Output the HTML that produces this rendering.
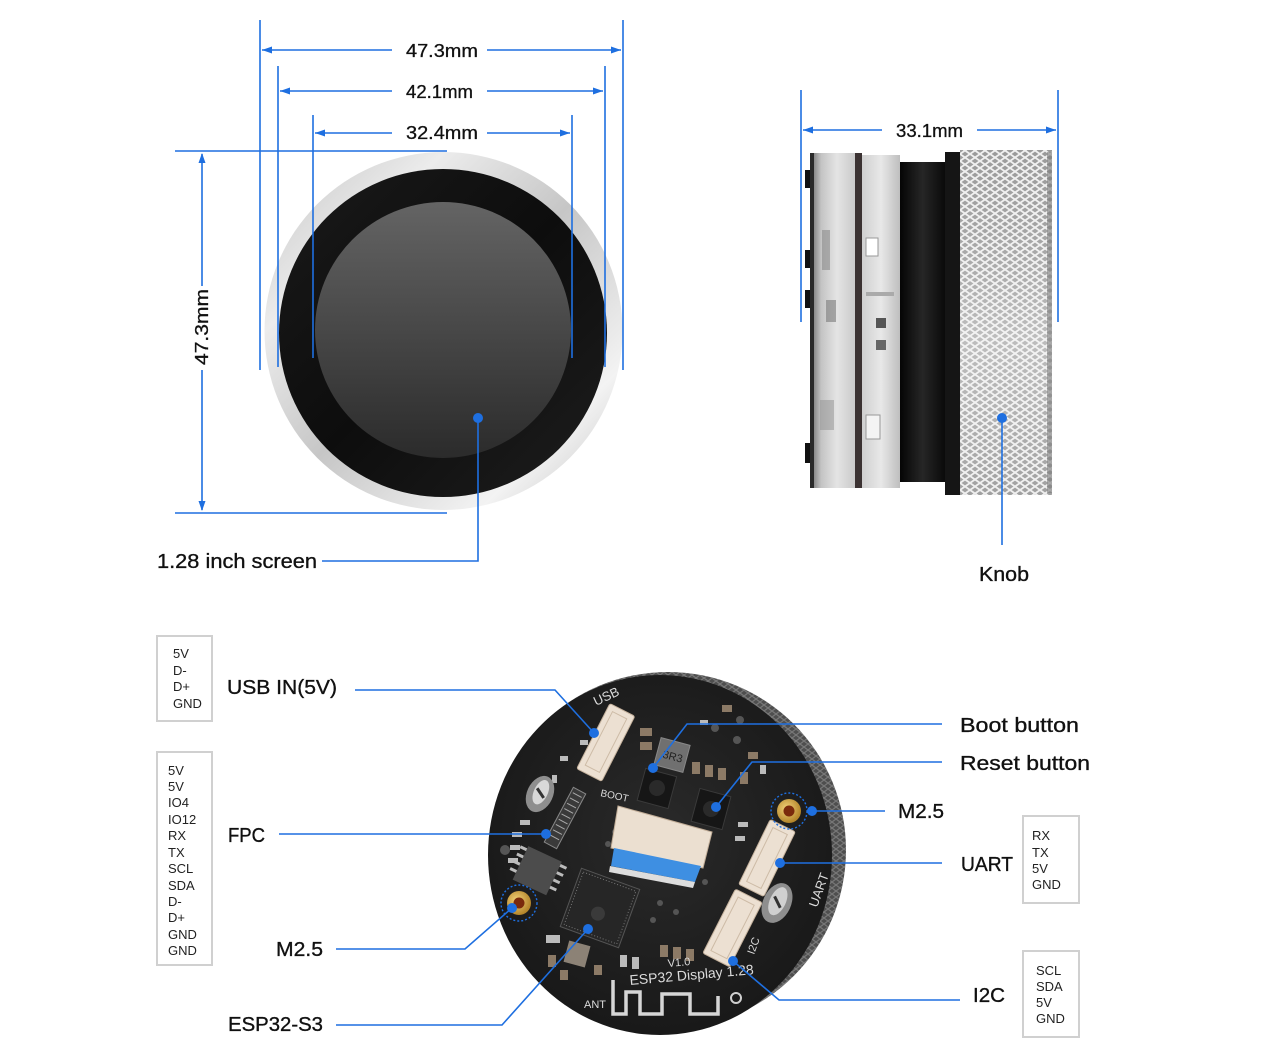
<!DOCTYPE html>
<html><head><meta charset="utf-8"><style>
html,body{margin:0;padding:0;background:#fff;}
svg{display:block;}
text{font-family:"Liberation Sans",Arial,sans-serif;}
</style></head><body>
<svg width="1280" height="1050" viewBox="0 0 1280 1050" xmlns="http://www.w3.org/2000/svg">
<defs>
 <linearGradient id="ring" x1="0" y1="0" x2="1" y2="1">
  <stop offset="0" stop-color="#c2c2c2"/>
  <stop offset="0.25" stop-color="#ececec"/>
  <stop offset="0.5" stop-color="#c6c6c6"/>
  <stop offset="0.8" stop-color="#f3f3f3"/>
  <stop offset="1" stop-color="#bcbcbc"/>
 </linearGradient>
 <linearGradient id="scr" x1="0" y1="0" x2="0" y2="1">
  <stop offset="0" stop-color="#646464"/>
  <stop offset="1" stop-color="#2b2b2b"/>
 </linearGradient>
 <linearGradient id="bez" x1="0" y1="0" x2="1" y2="1">
  <stop offset="0" stop-color="#1a1a1a"/>
  <stop offset="0.5" stop-color="#0d0d0d"/>
  <stop offset="1" stop-color="#1e1e1e"/>
 </linearGradient>
 <pattern id="knurl" width="10" height="7" patternUnits="userSpaceOnUse">
  <path d="M0,0 L10,7 M10,0 L0,7" stroke="#f8f8f8" stroke-width="1.8"/>
 </pattern>
 <pattern id="knurl2" width="8" height="6" patternUnits="userSpaceOnUse">
  <path d="M0,0 L8,6 M8,0 L0,6" stroke="#f4f4f4" stroke-width="1.2"/>
 </pattern>
 <linearGradient id="knobg" x1="0" y1="0" x2="0" y2="1">
  <stop offset="0" stop-color="#9a9a9a"/>
  <stop offset="0.3" stop-color="#a8a8a8"/>
  <stop offset="0.55" stop-color="#bdbdbd"/>
  <stop offset="0.8" stop-color="#b0b0b0"/>
  <stop offset="1" stop-color="#a0a0a0"/>
 </linearGradient>
 <linearGradient id="clear1" x1="0" y1="0" x2="1" y2="0">
  <stop offset="0" stop-color="#6a6a6a"/>
  <stop offset="0.25" stop-color="#c4c4c4"/>
  <stop offset="0.6" stop-color="#e4e4e4"/>
  <stop offset="1" stop-color="#cacaca"/>
 </linearGradient>
 <linearGradient id="clear2" x1="0" y1="0" x2="1" y2="0">
  <stop offset="0" stop-color="#d0d0d0"/>
  <stop offset="0.5" stop-color="#e8e8e8"/>
  <stop offset="1" stop-color="#bebebe"/>
 </linearGradient>
 <linearGradient id="blk" x1="0" y1="0" x2="1" y2="0">
  <stop offset="0" stop-color="#050505"/>
  <stop offset="0.5" stop-color="#262626"/>
  <stop offset="1" stop-color="#0a0a0a"/>
 </linearGradient>
 <radialGradient id="pcb" cx="0.5" cy="0.45" r="0.6">
  <stop offset="0" stop-color="#2a2a2a"/>
  <stop offset="1" stop-color="#171717"/>
 </radialGradient>
 <radialGradient id="gold" cx="0.4" cy="0.4" r="0.6">
  <stop offset="0" stop-color="#f3d27a"/>
  <stop offset="1" stop-color="#b3852a"/>
 </radialGradient>
</defs>

<rect width="1280" height="1050" fill="#fff"/>

<!-- ============ FRONT VIEW ============ -->
<circle cx="443.5" cy="331" r="179" fill="url(#ring)"/>
<circle cx="443" cy="333" r="164" fill="url(#bez)"/>
<circle cx="443" cy="330" r="128" fill="url(#scr)"/>

<g stroke="#1e6fe0" stroke-width="1.6" fill="none">
 <line x1="260" y1="20" x2="260" y2="370"/>
 <line x1="278" y1="66" x2="278" y2="367"/>
 <line x1="313" y1="115" x2="313" y2="358"/>
 <line x1="572" y1="115" x2="572" y2="358"/>
 <line x1="605" y1="66" x2="605" y2="367"/>
 <line x1="623" y1="20" x2="623" y2="370"/>
 <line x1="175" y1="151" x2="447" y2="151"/>
 <line x1="175" y1="513" x2="447" y2="513"/>
 <line x1="262" y1="50" x2="392" y2="50"/><line x1="487" y1="50" x2="621" y2="50"/>
 <line x1="280" y1="91" x2="392" y2="91"/><line x1="487" y1="91" x2="603" y2="91"/>
 <line x1="315" y1="133" x2="392" y2="133"/><line x1="487" y1="133" x2="570" y2="133"/>
 <line x1="202" y1="154" x2="202" y2="286"/><line x1="202" y1="370" x2="202" y2="510"/>
 <polyline points="478,418 478,561 322,561"/>
</g>
<g fill="#1e6fe0">
 <polygon points="262,50 272,46.5 272,53.5"/><polygon points="621,50 611,46.5 611,53.5"/>
 <polygon points="280,91 290,87.5 290,94.5"/><polygon points="603,91 593,87.5 593,94.5"/>
 <polygon points="315,133 325,129.5 325,136.5"/><polygon points="570,133 560,129.5 560,136.5"/>
 <polygon points="202,153 198.5,163 205.5,163"/><polygon points="202,511 198.5,501 205.5,501"/>
 <circle cx="478" cy="418" r="5"/>
</g>
<g fill="#111" font-size="18" stroke="#111" stroke-width="0.3">
 <text x="406" y="57" textLength="72" lengthAdjust="spacingAndGlyphs">47.3mm</text>
 <text x="406" y="98" textLength="67" lengthAdjust="spacingAndGlyphs">42.1mm</text>
 <text x="406" y="139" textLength="72" lengthAdjust="spacingAndGlyphs">32.4mm</text>
 <text transform="translate(208,365) rotate(-90)" x="0" y="0" textLength="76" lengthAdjust="spacingAndGlyphs">47.3mm</text>
</g>
<text x="157" y="568" font-size="20.5" fill="#111" stroke="#111" stroke-width="0.35" textLength="160" lengthAdjust="spacingAndGlyphs">1.28 inch screen</text>

<!-- ============ SIDE VIEW ============ -->
<g>
 <rect x="805" y="170" width="6" height="18" fill="#111"/>
 <rect x="805" y="250" width="6" height="18" fill="#111"/>
 <rect x="805" y="290" width="6" height="18" fill="#111"/>
 <rect x="805" y="443" width="6" height="20" fill="#111"/>
 <rect x="810" y="153" width="45" height="335" fill="url(#clear1)"/>
 <rect x="810" y="153" width="4" height="335" fill="#2a2a2a"/>
 <rect x="822" y="230" width="8" height="40" fill="#8a8a8a" opacity="0.6"/>
 <rect x="826" y="300" width="10" height="22" fill="#7a7a7a" opacity="0.6"/>
 <rect x="820" y="400" width="14" height="30" fill="#909090" opacity="0.5"/>
 <rect x="855" y="153" width="7" height="335" fill="#3b3232"/>
 <rect x="862" y="155" width="38" height="333" fill="url(#clear2)"/>
 <rect x="866" y="238" width="12" height="18" fill="#fff" stroke="#999"/>
 <rect x="876" y="318" width="10" height="10" fill="#555"/>
 <rect x="876" y="340" width="10" height="10" fill="#666"/>
 <rect x="866" y="415" width="14" height="24" fill="#f4f4f4" stroke="#999"/>
 <rect x="866" y="292" width="28" height="4" fill="#aaa"/>
 <rect x="900" y="162" width="45" height="320" fill="url(#blk)"/>
 <rect x="945" y="152" width="16" height="343" fill="#151515"/>
 <rect x="960" y="150" width="92" height="345" fill="url(#knobg)"/>
 <rect x="960" y="150" width="92" height="345" fill="url(#knurl)" opacity="0.9"/>
 <rect x="1047" y="152" width="5" height="341" fill="#7a7a7a" opacity="0.6"/>
</g>
<g stroke="#1e6fe0" stroke-width="1.6" fill="none">
 <line x1="801" y1="90" x2="801" y2="322"/>
 <line x1="1058" y1="90" x2="1058" y2="322"/>
 <line x1="803" y1="130" x2="882" y2="130"/><line x1="977" y1="130" x2="1056" y2="130"/>
 <line x1="1002" y1="418" x2="1002" y2="545"/>
</g>
<g fill="#1e6fe0">
 <polygon points="803,130 813,126.5 813,133.5"/><polygon points="1056,130 1046,126.5 1046,133.5"/>
 <circle cx="1002" cy="418" r="5"/>
</g>
<text x="896" y="137" font-size="18" fill="#111" stroke="#111" stroke-width="0.3" textLength="67" lengthAdjust="spacingAndGlyphs">33.1mm</text>
<text x="979" y="581" font-size="20.5" fill="#111" stroke="#111" stroke-width="0.35" textLength="50" lengthAdjust="spacingAndGlyphs">Knob</text>

<!-- ============ PCB VIEW ============ -->
<circle cx="668" cy="850" r="178" fill="#4e4e4e"/>
<circle cx="668" cy="850" r="178" fill="url(#knurl2)" opacity="0.25"/>
<ellipse cx="660" cy="855" rx="172" ry="180" fill="url(#pcb)"/>

<!-- small smd parts -->
<g fill="#8c7a66">
 <rect x="640" y="728" width="12" height="8"/><rect x="640" y="742" width="12" height="8"/>
 <rect x="692" y="762" width="8" height="12"/><rect x="705" y="765" width="8" height="12"/>
 <rect x="718" y="768" width="8" height="12"/><rect x="740" y="772" width="8" height="12"/>
 <rect x="722" y="705" width="10" height="7"/><rect x="748" y="752" width="10" height="7"/>
 <rect x="660" y="945" width="8" height="12"/><rect x="673" y="947" width="8" height="12"/>
 <rect x="686" y="949" width="8" height="12"/><rect x="548" y="955" width="8" height="12"/>
 <rect x="560" y="970" width="8" height="10"/><rect x="594" y="965" width="8" height="10"/>
</g>
<g fill="#bbbbbb">
 <rect x="580" y="740" width="8" height="5"/><rect x="560" y="756" width="8" height="5"/>
 <rect x="552" y="775" width="5" height="8"/><rect x="520" y="820" width="10" height="5"/>
 <rect x="512" y="832" width="10" height="5"/><rect x="510" y="845" width="10" height="5"/>
 <rect x="508" y="858" width="10" height="5"/><rect x="738" y="822" width="10" height="5"/>
 <rect x="735" y="836" width="10" height="5"/><rect x="728" y="904" width="10" height="5"/>
 <rect x="722" y="916" width="10" height="5"/><rect x="546" y="935" width="14" height="8"/>
 <rect x="620" y="955" width="7" height="12"/><rect x="632" y="957" width="7" height="12"/>
 <rect x="700" y="720" width="8" height="5"/><rect x="760" y="765" width="6" height="9"/>
</g>
<g fill="#555">
 <circle cx="715" cy="728" r="4"/><circle cx="737" cy="740" r="4"/><circle cx="740" cy="720" r="4"/>
 <circle cx="505" cy="850" r="5"/><circle cx="653" cy="920" r="3"/>
 <circle cx="660" cy="903" r="3"/><circle cx="676" cy="912" r="3"/><circle cx="705" cy="882" r="3"/>
 <circle cx="615" cy="832" r="3"/><circle cx="608" cy="844" r="3"/>
</g>

<!-- USB connector -->
<g transform="rotate(27 606 742)">
 <rect x="592" y="706" width="28" height="73" rx="2" fill="#ece0d2" stroke="#c5b29d"/>
 <rect x="598" y="712" width="16" height="60" fill="none" stroke="#cdbba6"/>
</g>
<!-- small FPC connector left -->
<g transform="rotate(28 565 818)">
 <rect x="558" y="787" width="14" height="62" fill="#3a3a3a" stroke="#888"/>
 <path d="M560,792 h10 M560,798 h10 M560,804 h10 M560,810 h10 M560,816 h10 M560,822 h10 M560,828 h10 M560,834 h10 M560,840 h10" stroke="#aaa" stroke-width="1"/>
</g>
<!-- silver ovals -->
<g transform="rotate(25 540 794)">
 <ellipse cx="540" cy="794" rx="13" ry="19" fill="#8e8e8e"/>
 <ellipse cx="540" cy="792" rx="7" ry="13" fill="#d8d8d8"/>
 <path d="M535,790 l10,6" stroke="#333" stroke-width="3"/>
</g>
<g transform="rotate(25 777 903)">
 <ellipse cx="777" cy="903" rx="14" ry="21" fill="#8e8e8e"/>
 <ellipse cx="777" cy="901" rx="8" ry="15" fill="#d0d0d0"/>
 <path d="M772,898 l10,8" stroke="#333" stroke-width="3"/>
</g>
<!-- left IC -->
<g transform="rotate(25 537 870)">
 <rect x="519" y="852" width="37" height="37" fill="#4c4c4c"/>
 <path d="M512,856 h7 M512,864 h7 M512,872 h7 M512,880 h7 M556,856 h7 M556,864 h7 M556,872 h7 M556,880 h7" stroke="#bbb" stroke-width="3"/>
</g>
<!-- ESP32 chip -->
<g transform="rotate(20 600 908)">
 <rect x="569" y="877" width="62" height="62" fill="#262626" stroke="#555"/>
 <rect x="572" y="880" width="56" height="56" fill="none" stroke="#777" stroke-dasharray="1 2"/>
 <circle cx="600" cy="914" r="7" fill="#3a3a3a"/>
</g>
<!-- crystal -->
<rect x="566" y="943" width="22" height="22" fill="#8c8276" transform="rotate(15 577 954)"/>
<!-- inductor -->
<g transform="rotate(15 672 755)">
 <rect x="657" y="741" width="30" height="28" fill="#707070" stroke="#888"/>
 <text x="663" y="760" font-size="11" fill="#222">3R3</text>
</g>
<!-- buttons -->
<g transform="rotate(15 657 788)">
 <rect x="641" y="772" width="32" height="33" fill="#161616" stroke="#3a3a3a"/>
 <circle cx="657" cy="788" r="8" fill="#2a2a2a"/>
</g>
<g transform="rotate(15 711 809)">
 <rect x="695" y="792" width="32" height="34" fill="#161616" stroke="#3a3a3a"/>
 <circle cx="711" cy="809" r="8" fill="#2a2a2a"/>
</g>
<!-- ZIF connector with blue cable -->
<polygon points="618,806 712,832 703,868 611,848" fill="#ebdfd0" stroke="#c2ae98"/>
<polygon points="614,848 701,866 695,882 611,866" fill="#3e8fe2"/>
<polygon points="610,866 695,882 693,888 609,872" fill="#ddd"/>
<!-- UART connector -->
<g transform="rotate(26 767 858)">
 <rect x="753" y="822" width="28" height="72" rx="2" fill="#ece0d2" stroke="#c5b29d"/>
 <rect x="759" y="828" width="16" height="60" fill="none" stroke="#cdbba6"/>
</g>
<!-- I2C connector -->
<g transform="rotate(27 733 927)">
 <rect x="718" y="892" width="30" height="72" rx="2" fill="#ece0d2" stroke="#c5b29d"/>
 <rect x="724" y="898" width="18" height="60" fill="none" stroke="#cdbba6"/>
</g>
<!-- standoffs -->
<circle cx="789" cy="811" r="12" fill="url(#gold)"/>
<circle cx="789" cy="811" r="5.5" fill="#7a2a0c"/>
<circle cx="519" cy="903" r="12" fill="url(#gold)"/>
<circle cx="519" cy="903" r="5.5" fill="#7a2a0c"/>
<circle cx="789" cy="811" r="18" fill="none" stroke="#1e6fe0" stroke-width="1.4" stroke-dasharray="2 2"/>
<circle cx="519" cy="903" r="18" fill="none" stroke="#1e6fe0" stroke-width="1.4" stroke-dasharray="2 2"/>
<!-- antenna -->
<path d="M613,980 V1014 H626 V992 H640 V1014 H662 V994 H690 V1014 H718 V996" fill="none" stroke="#d6d6d6" stroke-width="3.5"/>
<circle cx="736" cy="998" r="5" fill="none" stroke="#cfcfcf" stroke-width="2"/>
<!-- pcb texts -->
<g fill="#dcdcdc" font-family="'Liberation Mono',monospace">
 <text x="630" y="985" font-size="14" transform="rotate(-5 630 985)">ESP32 Display 1.28</text>
 <text x="668" y="967" font-size="11" transform="rotate(-5 668 967)">V1.0</text>
 <text x="584" y="1008" font-size="11">ANT</text>
 <text x="596" y="706" font-size="13" transform="rotate(-25 596 706)">USB</text>
 <text x="600" y="796" font-size="10" transform="rotate(12 600 796)">BOOT</text>
 <text x="817" y="908" font-size="13" transform="rotate(-70 817 908)">UART</text>
 <text x="754" y="955" font-size="11" transform="rotate(-70 754 955)">I2C</text>
</g>

<!-- PCB leader lines -->
<g stroke="#1e6fe0" stroke-width="1.6" fill="none">
 <polyline points="355,690 555,690 594,733"/>
 <line x1="279" y1="834" x2="546" y2="834"/>
 <polyline points="336,949 465,949 512,908"/>
 <polyline points="336,1025 502,1025 588,929"/>
 <polyline points="653,768 687,724 942,724"/>
 <polyline points="716,807 752,762 942,762"/>
 <line x1="812" y1="811" x2="885" y2="811"/>
 <line x1="780" y1="863" x2="942" y2="863"/>
 <polyline points="733,961 779,1000 960,1000"/>
</g>
<g fill="#1e6fe0">
 <circle cx="594" cy="733" r="5"/><circle cx="546" cy="834" r="5"/>
 <circle cx="512" cy="908" r="5"/><circle cx="588" cy="929" r="5"/>
 <circle cx="653" cy="768" r="5"/><circle cx="716" cy="807" r="5"/>
 <circle cx="812" cy="811" r="5"/><circle cx="780" cy="863" r="5"/>
 <circle cx="733" cy="961" r="5"/>
</g>

<!-- labels -->
<g fill="#111" font-size="20.5" stroke="#111" stroke-width="0.35">
 <text x="227" y="694" textLength="110" lengthAdjust="spacingAndGlyphs">USB IN(5V)</text>
 <text x="228" y="842" textLength="37" lengthAdjust="spacingAndGlyphs">FPC</text>
 <text x="276" y="956" textLength="47" lengthAdjust="spacingAndGlyphs">M2.5</text>
 <text x="228" y="1031" textLength="95" lengthAdjust="spacingAndGlyphs">ESP32-S3</text>
 <text x="960" y="732" textLength="119" lengthAdjust="spacingAndGlyphs">Boot button</text>
 <text x="960" y="770" textLength="130" lengthAdjust="spacingAndGlyphs">Reset button</text>
 <text x="898" y="818" textLength="46" lengthAdjust="spacingAndGlyphs">M2.5</text>
 <text x="961" y="871" textLength="52" lengthAdjust="spacingAndGlyphs">UART</text>
 <text x="973" y="1002" textLength="32" lengthAdjust="spacingAndGlyphs">I2C</text>
</g>

<!-- pin boxes -->
<g fill="none" stroke="#d0d0d0" stroke-width="2">
 <rect x="157" y="636" width="55" height="85"/>
 <rect x="157" y="752" width="55" height="213"/>
 <rect x="1023" y="816" width="56" height="87"/>
 <rect x="1023" y="951" width="56" height="86"/>
</g>
<g fill="#222" font-size="13">
 <text x="173" y="658">5V</text>
 <text x="173" y="675">D-</text>
 <text x="173" y="691">D+</text>
 <text x="173" y="708">GND</text>

 <text x="168" y="775">5V</text>
 <text x="168" y="791">5V</text>
 <text x="168" y="807">IO4</text>
 <text x="168" y="824">IO12</text>
 <text x="168" y="840">RX</text>
 <text x="168" y="857">TX</text>
 <text x="168" y="873">SCL</text>
 <text x="168" y="890">SDA</text>
 <text x="168" y="906">D-</text>
 <text x="168" y="922">D+</text>
 <text x="168" y="939">GND</text>
 <text x="168" y="955">GND</text>

 <text x="1032" y="840">RX</text>
 <text x="1032" y="857">TX</text>
 <text x="1032" y="873">5V</text>
 <text x="1032" y="889">GND</text>

 <text x="1036" y="975">SCL</text>
 <text x="1036" y="991">SDA</text>
 <text x="1036" y="1007">5V</text>
 <text x="1036" y="1023">GND</text>
</g>
</svg>
</body></html>
